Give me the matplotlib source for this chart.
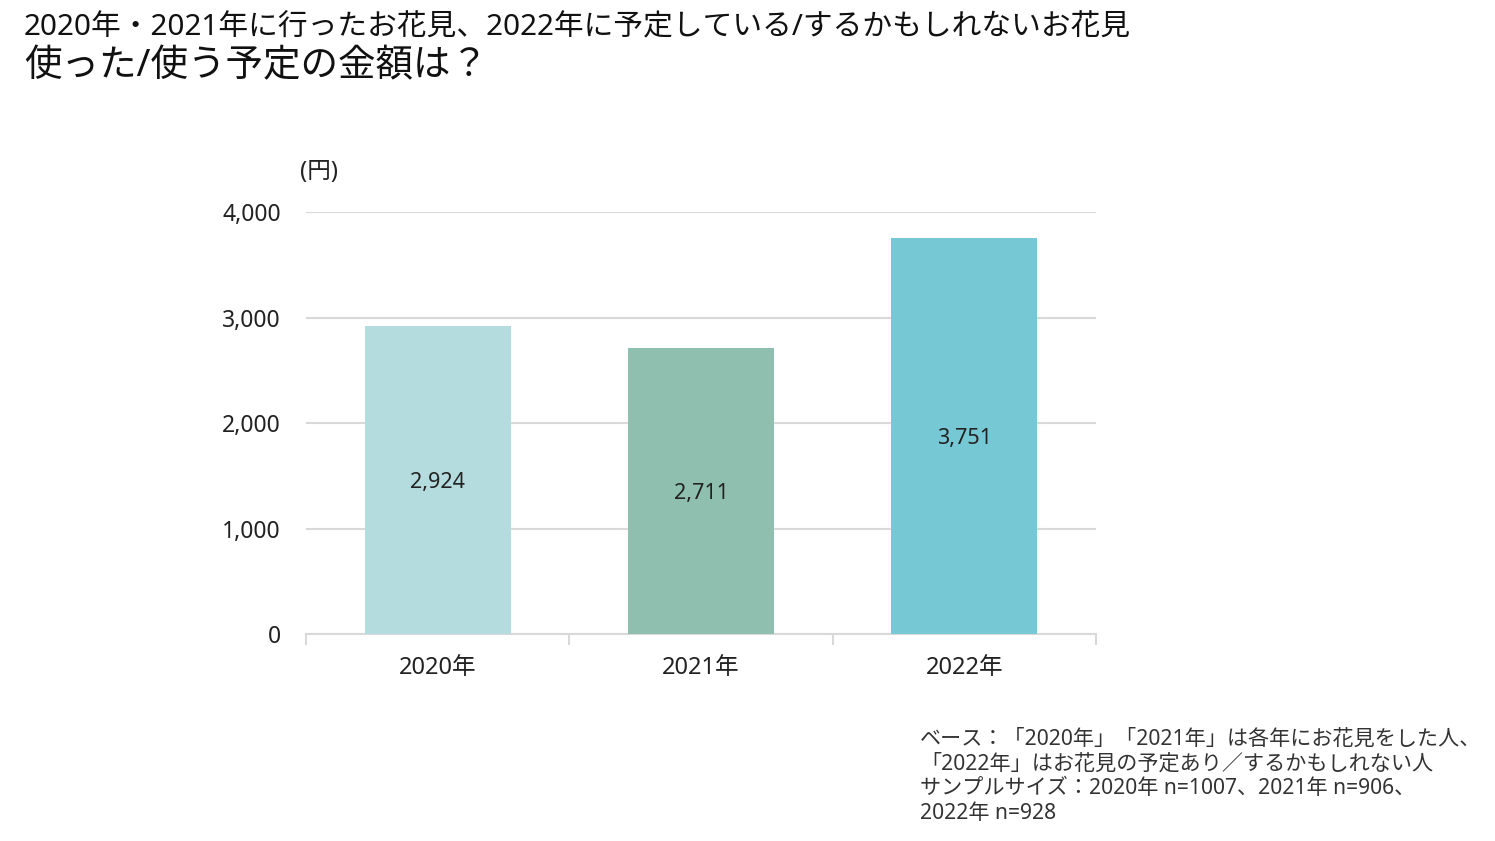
import matplotlib
matplotlib.use("Agg")
from matplotlib import pyplot as plt
from matplotlib.ticker import FixedLocator, FuncFormatter

plt.rcParams['font.family'] = ['Noto Sans', 'Noto Sans CJK JP', 'DejaVu Sans']

# données
years = ["2020年", "2021年", "2022年"]
amounts = [2924, 2711, 3751]
colors = ["#B4DCDF", "#8FBFAF", "#77C8D5"]
y_ticks = [0, 1000, 2000, 3000, 4000]

title_1 = "2020年・2021年に行ったお花見、2022年に予定している/するかもしれないお花見"
title_2 = "使った/使う予定の金額は？"
note = ("ベース：「2020年」「2021年」は各年にお花見をした人、\n"
        "「2022年」はお花見の予定あり／するかもしれない人\n"
        "サンプルサイズ：2020年 n=1007、2021年 n=906、\n"
        "2022年 n=928")

fig = plt.figure(figsize=(14.95, 8.41), dpi=100)
ax = fig.add_axes([0.2047, 0.2461, 0.5284, 0.5018])

x = list(range(len(years)))
bars = ax.bar(x, amounts, width=0.555, color=colors, zorder=3)

# étiquettes des valeurs au milieu des barres
for xi, v in zip(x, amounts):
    ax.text(xi, v / 2, f"{v:,}", ha='center', va='center_baseline', fontsize=15.5,
            color='#222222', zorder=4)

ax.set_xlim(-0.5, 2.5)
ax.set_ylim(0, 4000)
ax.set_yticks(y_ticks)
ax.yaxis.set_major_formatter(FuncFormatter(lambda v, p: f"{int(v):,}"))
ax.grid(axis='y', color='#D9D9D9', linewidth=1.5, zorder=0)
ax.tick_params(axis='y', length=0, pad=18, labelsize=16.5, labelcolor='#222222')

ax.set_xticks(x)
ax.set_xticklabels(years)
ax.xaxis.set_minor_locator(FixedLocator([-0.5, 0.5, 1.5, 2.5]))
ax.tick_params(axis='x', which='major', length=0, pad=16, labelsize=17, labelcolor='#222222')
ax.tick_params(axis='x', which='minor', length=8, width=1.5, color='#D9D9D9')

for side in ['top', 'right', 'left']:
    ax.spines[side].set_visible(False)
ax.spines['bottom'].set_color('#D9D9D9')
ax.spines['bottom'].set_linewidth(1.5)

# unité
fig.text(300 / 1495, 1 - 172 / 841, "(円)", ha='left', va='center', fontsize=17, color='#222222')

# titres
fig.text(24 / 1495, 1 - 28 / 841, title_1, ha='left', va='center', fontsize=21.4, color='#111111')
fig.text(24 / 1495, 1 - 66 / 841, title_2, ha='left', va='center', fontsize=27, color='#111111')

# note de bas
fig.text(920 / 1495, 1 - 729 / 841, note, ha='left', va='top', fontsize=15.2,
         color='#333333', linespacing=1.22)

fig.savefig("out.png", dpi=100)
